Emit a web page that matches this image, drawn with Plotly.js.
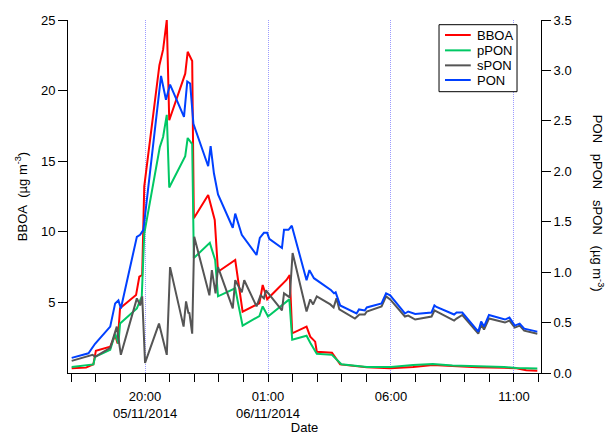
<!DOCTYPE html>
<html>
<head>
<meta charset="utf-8">
<script src="https://cdn.plot.ly/plotly-3.0.1.min.js"></script>
<style>
  html, body { margin: 0; padding: 0; background: #fff; }
  #chart { width: 607px; height: 435px; }
</style>
</head>
<body>
<div id="chart"></div>
<script>
// ---- data (times as clock HH:MM; 16:00-23:59 on 05/11/2014, 00:00-15:59 on 06/11/2014) ----
const bboaTimes = ["17:01","17:36","17:54","18:00","18:35","18:47","18:53","18:59","19:38","19:46","19:53","19:58","20:35","20:44","20:53","20:59","21:38","21:44","21:55","21:59","22:34","22:50","22:58","23:40","23:58","00:39","00:47","00:58","01:45","01:53","01:59","02:34","02:43","02:55","02:59","03:36","03:56","05:01","05:58","06:54","07:42","08:30","09:30","10:36","11:06","11:30","11:57"];
const bboaValues = [0.33,0.38,0.62,1.58,1.86,2.69,2.1,4.58,5.52,6.82,6.94,13.2,21.8,22.9,25.0,17.9,21.2,22.75,22.1,10.96,12.6,10.84,7.17,8.0,4.34,4.94,6.23,5.22,6.59,6.94,2.81,3.28,2.57,2.22,1.51,1.44,0.61,0.40,0.33,0.43,0.57,0.5,0.4,0.37,0.33,0.2,0.16];

const pponTimes = ["17:01","17:54","17:58","18:35","18:47","18:55","18:59","19:40","19:52","19:58","20:36","20:44","20:53","20:59","21:38","21:44","21:55","21:59","22:38","22:51","22:58","23:40","23:47","23:58","00:39","00:47","01:00","01:52","01:59","02:34","02:43","02:59","03:36","03:59","05:01","06:00","06:54","07:42","08:30","09:30","10:36","11:06","11:57"];
const pponValues = [0.06,0.085,0.16,0.23,0.39,0.29,0.49,0.64,0.76,1.38,2.24,2.34,2.56,1.84,2.15,2.33,2.27,1.14,1.29,1.12,0.76,0.84,0.69,0.47,0.565,0.66,0.56,0.73,0.33,0.37,0.30,0.19,0.18,0.086,0.06,0.06,0.08,0.09,0.075,0.07,0.06,0.05,0.045];

const sponTimes = ["17:01","17:52","17:58","18:35","18:51","19:01","19:40","19:48","19:53","20:00","20:34","20:53","21:01","21:34","21:40","21:46","21:48","21:55","22:00","22:37","22:43","22:52","22:58","23:34","23:40","23:56","00:02","00:32","00:42","00:50","00:55","01:34","01:39","01:53","02:00","02:34","02:43","02:50","02:59","03:32","03:40","03:47","03:54","04:32","04:43","04:56","05:01","05:37","05:48","05:58","06:34","06:42","06:59","07:39","07:46","07:51","08:34","08:40","08:54","09:33","09:40","09:47","09:59","10:38","10:49","11:02","11:14","11:25","11:57"];
const sponValues = [0.12,0.18,0.16,0.25,0.46,0.18,0.74,0.67,0.76,0.10,0.49,0.18,1.05,0.46,0.71,0.59,0.60,0.39,1.35,0.77,1.02,0.79,1.05,0.64,0.92,0.80,0.92,0.66,0.77,0.74,0.82,0.62,0.79,0.75,1.19,0.61,0.73,0.68,0.76,0.68,0.65,0.74,0.63,0.54,0.58,0.58,0.61,0.66,0.76,0.73,0.56,0.57,0.53,0.56,0.62,0.61,0.52,0.54,0.575,0.39,0.48,0.43,0.54,0.50,0.52,0.45,0.47,0.42,0.39];

const ponTimes = ["17:01","17:42","17:58","18:35","18:47","18:55","19:01","19:40","19:48","19:56","20:39","20:51","21:01","21:35","21:43","21:50","21:58","22:34","22:40","22:48","22:58","23:34","23:40","23:56","00:32","00:40","00:50","00:58","01:03","01:34","01:39","01:50","01:58","02:34","02:41","02:52","03:34","03:41","03:45","03:56","04:36","04:42","04:56","05:01","05:37","05:48","05:58","06:34","06:42","06:59","07:39","07:46","07:51","08:34","08:40","08:54","09:33","09:40","09:47","09:59","10:38","10:49","11:02","11:14","11:25","11:57"];
const ponValues = [0.15,0.195,0.29,0.46,0.69,0.72,0.64,1.35,1.37,1.42,2.945,2.71,2.86,2.54,2.89,2.87,2.47,2.05,2.25,1.98,1.77,1.44,1.58,1.37,1.17,1.34,1.39,1.39,1.33,1.24,1.42,1.42,1.46,0.92,1.02,0.94,0.82,0.79,0.80,0.67,0.59,0.63,0.62,0.65,0.69,0.79,0.77,0.59,0.61,0.585,0.60,0.67,0.655,0.58,0.60,0.60,0.41,0.51,0.46,0.575,0.53,0.55,0.47,0.49,0.44,0.41];

const seriesNames = ["BBOA","pPON","sPON","PON"];
const seriesColors = ["#ff0000","#00c864","#555555","#0040ff"];

const majorTickTimes = ["20:00","01:00","06:00","11:00"];
const majorTickLabels = ["20:00<br>05/11/2014","01:00<br>06/11/2014","06:00","11:00"];
const leftTicks = [5,10,15,20,25];
const rightTicks = [0,0.5,1,1.5,2,2.5,3,3.5];

// ---- helpers ----
function toDate(hm) {
  const h = parseInt(hm.split(":")[0], 10);
  return (h >= 16 ? "2014-11-05 " : "2014-11-06 ") + hm;
}
const minorTicks = [];
for (let h = 17; h <= 36; h++) {
  const hh = h % 24;
  minorTicks.push(toDate((hh < 10 ? "0" : "") + hh + ":00"));
}

const FONT = "Liberation Sans, Arial, Helvetica, sans-serif";

const seriesTimes = [bboaTimes, pponTimes, sponTimes, ponTimes];
const seriesValues = [bboaValues, pponValues, sponValues, ponValues];
const seriesAxes = ["y", "y2", "y2", "y2"];

const traces = seriesNames.map((name, i) => ({
  name: name, x: seriesTimes[i].map(toDate), y: seriesValues[i], yaxis: seriesAxes[i],
  type: "scatter", mode: "lines", line: { color: seriesColors[i], width: 2 }, showlegend: false
}));

// ---- compact legend box (Igor-style), placed in paper coordinates ----
const legX0 = 0.7844, legX1 = 0.9493, legY0 = 0.7969, legY1 = 0.9867;
const legLineX0 = 0.797, legLineX1 = 0.8515, legTextX = 0.860;
const legRowY = [0.9575, 0.9140, 0.8715, 0.8300];

const shapes = [{
  type: "rect", xref: "paper", yref: "paper", x0: legX0, x1: legX1, y0: legY0, y1: legY1,
  line: { color: "#000", width: 1 }, fillcolor: "#fff", layer: "above"
}];
const annotations = [];
seriesNames.forEach((name, i) => {
  shapes.push({
    type: "line", xref: "paper", yref: "paper", x0: legLineX0, x1: legLineX1, y0: legRowY[i], y1: legRowY[i],
    line: { color: seriesColors[i], width: 2 }, layer: "above"
  });
  annotations.push({
    xref: "paper", yref: "paper", x: legTextX, y: legRowY[i], xanchor: "left", yanchor: "middle",
    text: name, showarrow: false, font: { family: FONT, size: 13, color: "#000" }
  });
});
annotations.push({
  xref: "paper", yref: "paper", x: 1.122, y: 0.48,
  text: "PON\u00a0\u00a0\u00a0pPON\u00a0\u00a0\u00a0sPON\u00a0\u00a0\u00a0(\u00b5g m<sup>-3</sup>)",
  textangle: 90, showarrow: false,
  font: { family: FONT, size: 13, color: "#000" },
  xanchor: "center", yanchor: "middle"
});

const layout = {
  width: 607, height: 435,
  margin: { l: 68, r: 66, t: 20, b: 62 },
  paper_bgcolor: "#ffffff", plot_bgcolor: "#ffffff",
  font: { family: FONT, size: 13, color: "#000" },
  showlegend: false,
  xaxis: {
    type: "date",
    range: ["2014-11-05 16:52", "2014-11-06 12:06"],
    showline: true, linecolor: "#000", linewidth: 1,
    ticks: "outside", ticklen: 8, tickcolor: "#000", tickwidth: 1,
    tickmode: "array", tickvals: majorTickTimes.map(toDate), ticktext: majorTickLabels,
    ticklabelstandoff: 3,
    tickfont: { family: FONT, size: 13, color: "#000" },
    showgrid: true, gridcolor: "rgb(155,155,255)", griddash: "1px,1px", gridwidth: 1,
    minor: { tickmode: "array", tickvals: minorTicks, ticks: "outside", ticklen: 8, tickcolor: "#000", tickwidth: 1, showgrid: false },
    zeroline: false,
    title: { text: "Date", font: { family: FONT, size: 13, color: "#000" }, standoff: 9 }
  },
  yaxis: {
    range: [0, 25],
    showline: true, linecolor: "#000", linewidth: 1,
    ticks: "outside", ticklen: 9, tickcolor: "#000", tickwidth: 1,
    tickmode: "array", tickvals: leftTicks,
    tickfont: { family: FONT, size: 13, color: "#000" },
    showgrid: false, zeroline: false,
    title: { text: "BBOA\u00a0\u00a0(\u00b5g m<sup>-3</sup>)", font: { family: FONT, size: 13, color: "#000" }, standoff: 10 }
  },
  yaxis2: {
    overlaying: "y", side: "right", anchor: "x",
    range: [0, 3.5],
    showline: true, linecolor: "#000", linewidth: 1,
    ticks: "outside", ticklen: 9, tickcolor: "#000", tickwidth: 1,
    tickmode: "array", tickvals: rightTicks, tickformat: ".1f",
    tickfont: { family: FONT, size: 13, color: "#000" },
    showgrid: false, zeroline: false
  },
  shapes: shapes,
  annotations: annotations
};

Plotly.newPlot("chart", traces, layout, { staticPlot: true, displayModeBar: false });
</script>
</body>
</html>
